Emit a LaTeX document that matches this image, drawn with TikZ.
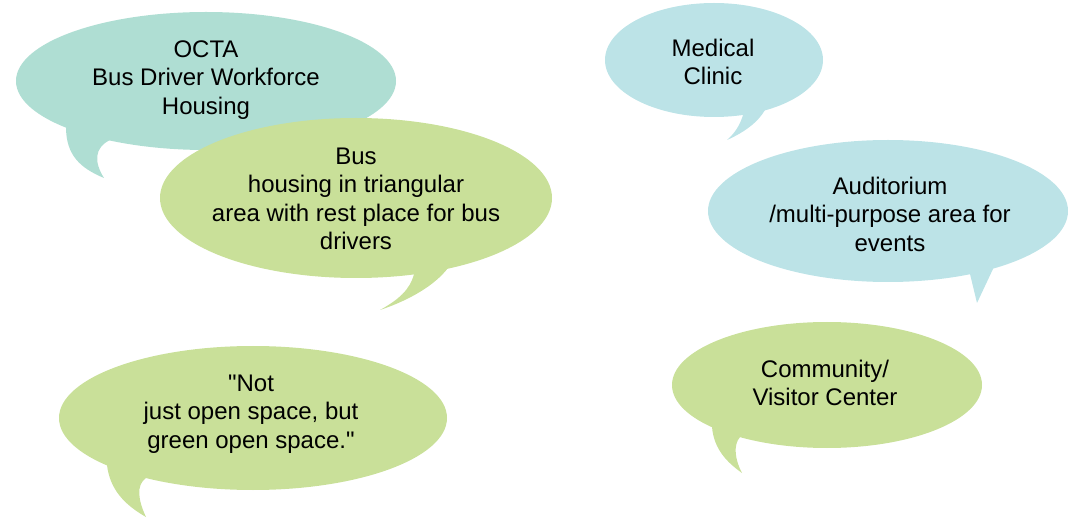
\documentclass[tikz,border=0pt]{standalone}
\usepackage{fontspec}
\setmainfont{Liberation Sans}
\usetikzlibrary{shapes.geometric}
\definecolor{teal1}{RGB}{175,222,211}
\definecolor{cyan1}{RGB}{188,227,231}
\definecolor{green1}{RGB}{201,224,153}
\tikzset{
  bubble/.style={ellipse, inner sep=0pt, draw=none},
  btext/.style={align=center, inner sep=0pt, font=\fontsize{24}{28.5}\selectfont, text=black},
}
\begin{document}
\begin{tikzpicture}[x=1pt,y=-1pt]
\useasboundingbox (0,0) rectangle (1068,518);
% OCTA
\fill[teal1] (66,120) -- (66,127) .. controls (66,155) and (80,168) .. (104,178)
  .. controls (94,162) and (94,148) .. (110,140) -- (110,125) -- cycle;
\node[bubble, fill=teal1, minimum width=380pt, minimum height=138pt] (octa) at (206,81) {};
\node[btext] (octat) at (206,80) {OCTA\\Bus Driver Workforce\\Housing};
% Bus
\fill[green1] (414,268) -- (414,274) .. controls (410,290) and (398,300) .. (380,310)
  .. controls (410,300) and (435,285) .. (448,268) -- (448,260) -- cycle;
\node[bubble, fill=green1, minimum width=392pt, minimum height=160pt] (bus) at (356,198) {};
\node[btext] (bust) at (356,199) {Bus\\housing in triangular\\area with rest place for bus\\drivers};
% Medical
\fill[cyan1] (743,108) -- (743,115) .. controls (740,125) and (735,133) .. (727,140)
  .. controls (745,132) and (758,122) .. (765,110) -- (765,100) -- cycle;
\node[bubble, fill=cyan1, minimum width=218pt, minimum height=114pt] (med) at (714,60) {};
\node[btext] (medt) at (713,62) {Medical\\Clinic};
% Auditorium
\fill[cyan1] (970,265) -- (970,274) -- (977,303) -- (993,269) -- (993,260) -- cycle;
\node[bubble, fill=cyan1, minimum width=360pt, minimum height=142pt] (aud) at (888,211) {};
\node[btext] (audt) at (890,214) {Auditorium\\/multi-purpose area for\\events};
% Not just open space
\fill[green1] (107,460) -- (107,465) .. controls (110,490) and (125,505) .. (146,517)
  .. controls (138,500) and (136,485) .. (146,478) -- (146,470) -- cycle;
\node[bubble, fill=green1, minimum width=388pt, minimum height=144pt] (notb) at (253,418) {};
\node[btext] (nott) at (251,414) {\textquotedbl Not\\just open space, but\\green open space.\textquotedbl};
% Community
\fill[green1] (712,420) -- (712,427) .. controls (714,450) and (728,463) .. (742,473)
  .. controls (735,460) and (733,445) .. (740,437) -- (740,430) -- cycle;
\node[bubble, fill=green1, minimum width=310pt, minimum height=126pt] (comm) at (827,385) {};
\node[btext] (commt) at (825,383) {Community/\\Visitor Center};
\end{tikzpicture}
\end{document}
